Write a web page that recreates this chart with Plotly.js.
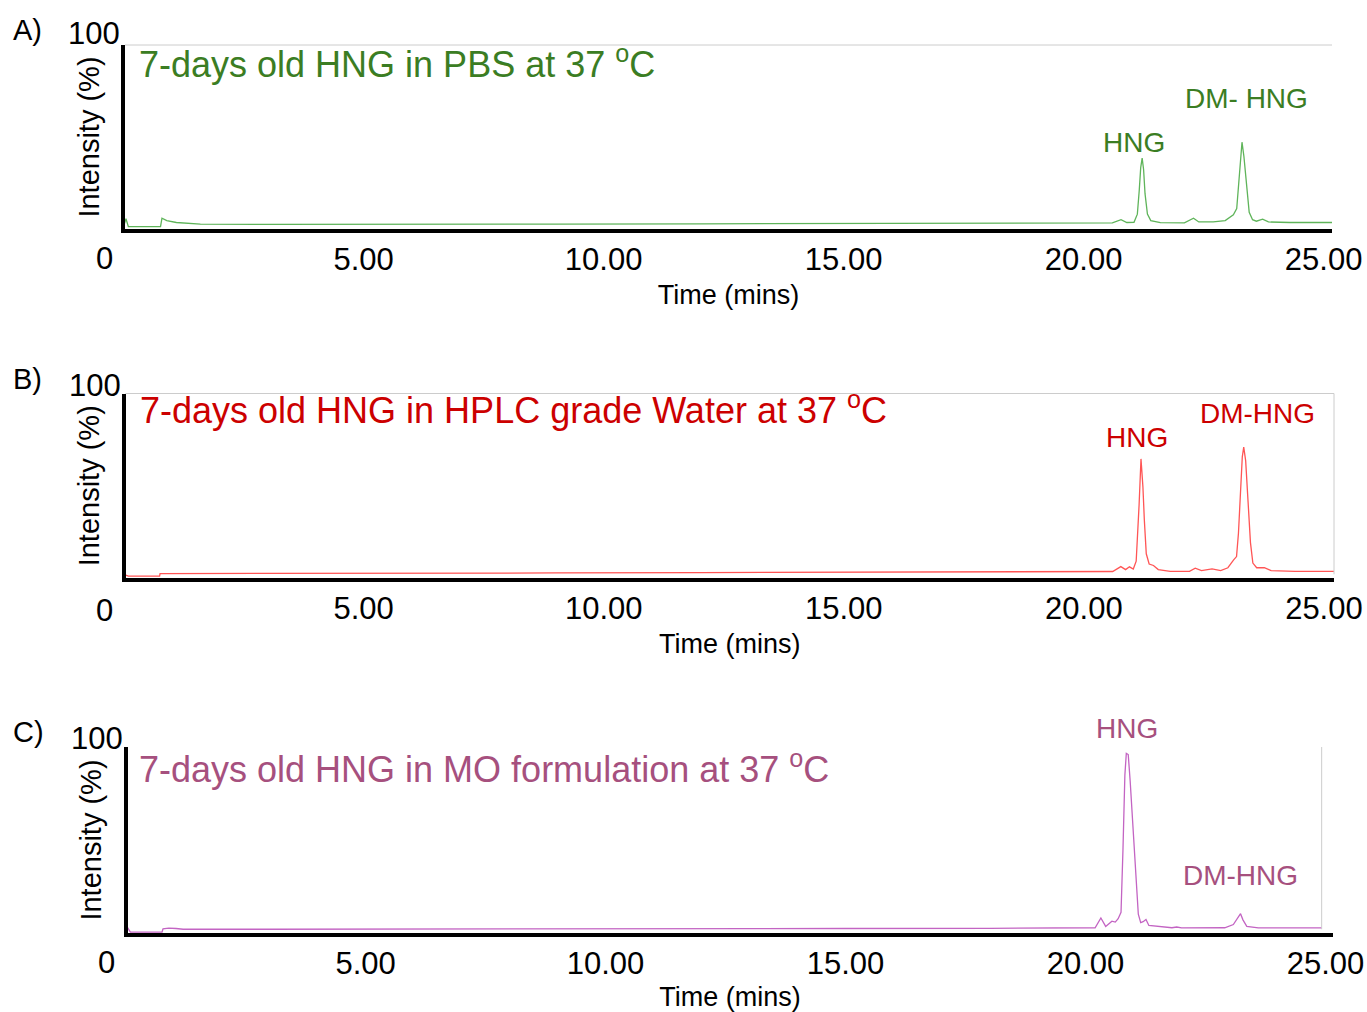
<!DOCTYPE html>
<html>
<head>
<meta charset="utf-8">
<script src="https://cdn.plot.ly/plotly-3.0.1.min.js"></script>
<style>
  html, body { margin: 0; padding: 0; background: #ffffff; }
  #chart { width: 1367px; height: 1012px; }
</style>
</head>
<body>
<div id="chart"></div>
<script>
// Retention time (min) and relative intensity (%) of each chromatogram

// A) 7 days in PBS at 37 °C
const timePBS = [0, 0.05, 0.1, 0.77, 0.8, 0.9, 1.1, 1.4, 1.6, 3, 6, 9, 12, 15, 18, 20, 20.6, 20.78, 20.9, 21.05,
  21.12, 21.16, 21.19, 21.22, 21.25, 21.28, 21.33, 21.4, 21.6, 22.1, 22.29, 22.4, 22.7, 22.95, 23.12, 23.19, 23.23,
  23.27, 23.30, 23.34, 23.40, 23.45, 23.52, 23.6, 23.73, 23.85, 24.3, 25.2];
const intensityPBS = [2.3, 6.5, 2.3, 2.3, 6.8, 5.5, 4.5, 3.9, 3.6, 3.5, 3.4, 3.6, 3.8, 4.0, 4.1, 4.2, 4.3, 6.0, 4.5, 4.6,
  9, 22, 34, 39.1, 33, 20, 9, 5.5, 4.4, 4.3, 6.8, 4.8, 4.8, 5.5, 8.6, 12, 25,
  42, 47.7, 40, 22, 10, 6, 5.2, 6.3, 4.8, 4.5, 4.5];

// B) 7 days in HPLC grade water at 37 °C
const timeWater = [0, 0.05, 0.1, 0.75, 0.76, 3, 6, 9, 12, 15, 18, 20, 20.6, 20.77, 20.87, 20.95, 21.03, 21.09, 21.12, 21.15,
  21.19, 21.23, 21.26, 21.30, 21.36, 21.45, 21.55, 21.8, 22.2, 22.32, 22.45, 22.67, 22.85, 23.0, 23.12, 23.18, 23.22,
  23.26, 23.30, 23.33, 23.37, 23.42, 23.47, 23.52, 23.6, 23.76, 23.9, 24.4, 25.25];
const intensityWater = [2.0, 2.5, 2.0, 2.0, 3.4, 3.4, 3.5, 3.7, 3.9, 4.0, 4.2, 4.3, 4.5, 7.1, 5.5, 7.0, 5.8, 10, 22, 40,
  64.9, 50, 32, 14, 8.5, 7.7, 5.5, 4.6, 4.6, 6.3, 5.0, 5.9, 5.0, 6.5, 10.7, 12.5, 25,
  48, 66, 71.2, 64, 42, 20, 9, 6.5, 6.6, 5.0, 4.6, 4.6];

// C) 7 days in MO formulation at 37 °C
const timeMO = [0, 0.05, 0.1, 0.76, 0.78, 0.9, 1.05, 1.2, 3, 6, 9, 12, 15, 18, 19.8, 20.2, 20.32, 20.42, 20.55, 20.62,
  20.68, 20.74, 20.78, 20.82, 20.85, 20.89, 20.93, 20.97, 21.02, 21.06, 21.1, 21.15, 21.2, 21.26, 21.32, 21.8, 21.9,
  22.0, 22.9, 23.08, 23.18, 23.23, 23.28, 23.36, 23.6, 24.92];
const intensityMO = [1.5, 3.5, 1.5, 1.5, 3.2, 3.6, 3.4, 3.0, 3.0, 3.0, 3.1, 3.3, 3.4, 3.5, 3.6, 3.8, 9.0, 4.5, 7.3, 6.8,
  8.6, 12, 45, 85, 96.6, 96, 82, 65, 40, 22, 11, 6.5, 7.0, 8.2, 5.0, 3.8, 4.2,
  3.7, 3.8, 5.5, 9.5, 11.3, 8, 4.5, 3.7, 3.7];

// Time axis ticks
const tickTimes = [5, 10, 15, 20, 25];
const tickLabels = ['5.00', '10.00', '15.00', '20.00', '25.00'];

// Panel text
const panelLetters = ['A)', 'B)', 'C)'];
const panelTitles = [
  '7-days old HNG in PBS at 37 <sup>o</sup>C',
  '7-days old HNG in HPLC grade Water at 37 <sup>o</sup>C',
  '7-days old HNG in MO formulation at 37 <sup>o</sup>C'
];
const peakNames = [['HNG', 'DM- HNG'], ['HNG', 'DM-HNG'], ['HNG', 'DM-HNG']];
const peakLabelTimes = [[21.05, 23.40], [21.11, 23.61], [20.86, 23.22]];
const peakLabelLevels = [[47.8, 71], [76.2, 89], [109.6, 31.4]];

const textColors = ['#3b7d23', '#cc0000', '#a6507e'];
const lineColors = ['rgb(95,180,90)', 'rgb(255,85,85)', 'rgb(195,100,195)'];

// ---- layout helpers (pixel -> paper fraction) ----
const W = 1367, H = 1012;
const fx = x => x / W;
const fy = y => 1 - y / H;
const FONT = 'Liberation Sans, Arial, Helvetica, sans-serif';

const panels = [
  { left: 125, right: 1332, top: 45, bottom: 229, range: [0.03, 25.175], topLabel: 12, zeroLabel: 29, titleLeft: 12, titleDrop: 17 },
  { left: 125.5, right: 1334, top: 393.5, bottom: 578, range: [0.04, 25.21], topLabel: 8.5, zeroLabel: 32, titleLeft: 12, titleDrop: 14 },
  { left: 127.5, right: 1332.7, top: 747, bottom: 933, range: [0.04, 25.15], topLabel: 9, zeroLabel: 29, titleLeft: 9, titleDrop: 20 }
];

const series = [
  [timePBS, intensityPBS],
  [timeWater, intensityWater],
  [timeMO, intensityMO]
];

const data = series.map((s, i) => ({
  type: 'scatter',
  mode: 'lines',
  x: s[0],
  y: s[1],
  xaxis: i === 0 ? 'x' : 'x' + (i + 1),
  yaxis: i === 0 ? 'y' : 'y' + (i + 1),
  line: { color: lineColors[i], width: 1.3 },
  hoverinfo: 'x+y',
  showlegend: false
}));

const layout = {
  width: W,
  height: H,
  margin: { l: 0, r: 0, t: 0, b: 0 },
  paper_bgcolor: '#ffffff',
  plot_bgcolor: '#ffffff',
  font: { family: FONT, color: '#000000' },
  showlegend: false,
  annotations: [],
  shapes: []
};

panels.forEach((p, i) => {
  const n = i === 0 ? '' : String(i + 1);
  layout['xaxis' + n] = {
    domain: [fx(p.left), fx(p.right)],
    range: p.range,
    anchor: 'y' + n,
    showline: true,
    linewidth: 4,
    linecolor: '#000000',
    showgrid: false,
    zeroline: false,
    ticks: '',
    tickvals: tickTimes,
    ticktext: tickLabels,
    tickfont: { family: FONT, size: 31, color: '#000000' },
    ticklabelstandoff: 0,
    title: { text: 'Time (mins)', font: { family: FONT, size: 27, color: '#000000' }, standoff: 10 }
  };
  layout['yaxis' + n] = {
    domain: [fy(p.bottom), fy(p.top)],
    range: [1, 100],
    anchor: 'x' + n,
    showline: true,
    linewidth: 4,
    linecolor: '#000000',
    showgrid: false,
    zeroline: false,
    ticks: '',
    showticklabels: false,
    title: { text: 'Intensity (%)', font: { family: FONT, size: 29, color: '#000000' }, standoff: 14 }
  };

  const xr = 'x' + n, yr = 'y' + n;

  // panel letter
  layout.annotations.push({
    text: panelLetters[i], xref: 'paper', yref: 'paper',
    x: fx(11), y: fy(p.top - 15), xanchor: 'left', yanchor: 'middle',
    showarrow: false, font: { family: FONT, size: 29, color: '#000000' }
  });
  // 100 and 0 labels of the intensity scale
  layout.annotations.push({
    text: '100', xref: 'paper', yref: 'paper',
    x: fx(p.left - 3), y: fy(p.top - p.topLabel), xanchor: 'right', yanchor: 'middle',
    showarrow: false, font: { family: FONT, size: 31, color: '#000000' }
  });
  layout.annotations.push({
    text: '0', xref: 'paper', yref: 'paper',
    x: fx(p.left - 21), y: fy(p.bottom + p.zeroLabel), xanchor: 'center', yanchor: 'middle',
    showarrow: false, font: { family: FONT, size: 31, color: '#000000' }
  });
  // sample title
  layout.annotations.push({
    text: panelTitles[i], xref: 'paper', yref: 'paper',
    x: fx(p.left + p.titleLeft), y: fy(p.top + p.titleDrop), xanchor: 'left', yanchor: 'middle',
    showarrow: false, font: { family: FONT, size: 36, color: textColors[i] }
  });
  // peak labels (intensity level may sit above the frame, so it is placed on the paper)
  peakNames[i].forEach((name, k) => {
    const lvl = peakLabelLevels[i][k];
    const fracInPanel = (lvl - 1) / 99;
    layout.annotations.push({
      text: name, xref: xr, yref: 'paper',
      x: peakLabelTimes[i][k],
      y: fy(p.bottom) + fracInPanel * (fy(p.top) - fy(p.bottom)),
      xanchor: 'center', yanchor: 'middle',
      showarrow: false, font: { family: FONT, size: 28, color: textColors[i] }
    });
  });

  // thin frame lines
  if (i < 2) {
    layout.shapes.push({
      type: 'line', xref: xr + ' domain', yref: yr + ' domain',
      x0: 0, x1: 1, y0: 1, y1: 1, line: { color: '#cccccc', width: 1 }
    });
  }
  if (i === 1) {
    layout.shapes.push({
      type: 'line', xref: xr + ' domain', yref: yr + ' domain',
      x0: 1, x1: 1, y0: 0.02, y1: 1, line: { color: '#cccccc', width: 1 }
    });
  }
  if (i === 2) {
    layout.shapes.push({
      type: 'line', xref: xr, yref: yr + ' domain',
      x0: 24.92, x1: 24.92, y0: 0.02, y1: 1, line: { color: '#cccccc', width: 1 }
    });
  }
});

Plotly.newPlot('chart', data, layout, { displayModeBar: false, staticPlot: true });
</script>
</body>
</html>
